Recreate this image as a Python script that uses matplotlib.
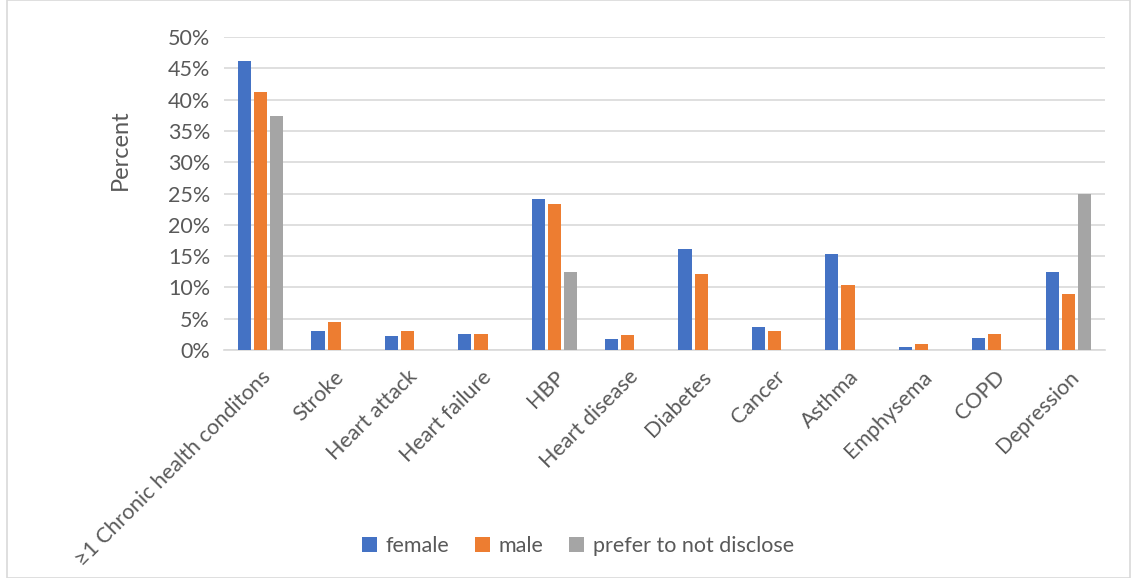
import numpy as np
import matplotlib.pyplot as plt
from matplotlib.patches import Rectangle

categories = ["≥1 Chronic health conditons", "Stroke", "Heart attack", "Heart failure",
              "HBP", "Heart disease", "Diabetes", "Cancer", "Asthma", "Emphysema",
              "COPD", "Depression"]
female = [46.2, 3.0, 2.2, 2.6, 24.2, 1.8, 16.1, 3.7, 15.3, 0.5, 1.9, 12.4]
male = [41.2, 4.5, 3.0, 2.6, 23.3, 2.4, 12.1, 3.0, 10.4, 1.0, 2.5, 8.9]
undisclosed = [37.4, 0, 0, 0, 12.5, 0, 0, 0, 0, 0, 0, 25.0]
series_names = ["female", "male", "prefer to not disclose"]
colors = ["#4472C4", "#ED7D31", "#A5A5A5"]
yticks = [0, 5, 10, 15, 20, 25, 30, 35, 40, 45, 50]

plt.rcParams['font.family'] = ['Lato', 'DejaVu Sans']
text_color = "#595959"

fig = plt.figure(figsize=(11.31, 5.78), dpi=100)
ax = fig.add_axes([224 / 1131, 1 - 350 / 578, (1105 - 224) / 1131, 313 / 578])

x = np.arange(len(categories))
w = 0.18
step = 0.22
for i, (vals, name) in enumerate(zip([female, male, undisclosed], series_names)):
    ax.bar(x + (i - 1) * step, vals, width=w, color=colors[i], label=name, zorder=3)

ax.set_xlim(-0.5, len(categories) - 0.5)
ax.set_ylim(0, 50)
ax.set_yticks(yticks)
ax.set_yticklabels([f"{t}%" for t in yticks], fontsize=15.5, color=text_color)
ax.set_xticks(x)
ax.set_xticklabels(categories, rotation=45, ha="right", rotation_mode="anchor",
                   fontsize=15.5, color=text_color)
ax.tick_params(axis="y", length=0, pad=10)
ax.tick_params(axis="x", length=0, pad=12)
ax.grid(axis="y", color="#D9D9D9", linewidth=1.2, zorder=0)
for s in ["top", "right", "left"]:
    ax.spines[s].set_visible(False)
ax.spines["bottom"].set_color("#D9D9D9")
ax.spines["bottom"].set_linewidth(1.2)

fig.text(120 / 1131, 1 - 150 / 578, "Percent", rotation=90, fontsize=17,
         color=text_color, ha="center", va="center")

fig.legend(loc="center", bbox_to_anchor=(578 / 1131, 1 - 546 / 578), ncol=3,
           frameon=False, fontsize=15.5, labelcolor=text_color, handlelength=0.7,
           handleheight=0.7, columnspacing=1.2, handletextpad=0.4)

fig.patches.append(Rectangle((7 / 1131, 0), 1 - 8 / 1131, 1, transform=fig.transFigure,
                             fill=False, edgecolor="#D9D9D9", linewidth=1.2))

fig.savefig("out.png", dpi=100)
